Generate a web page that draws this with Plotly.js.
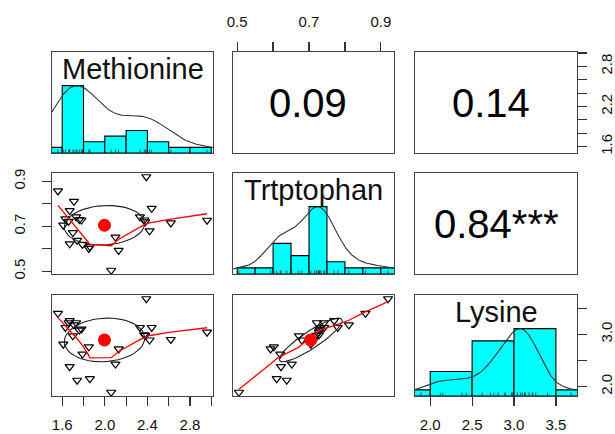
<!DOCTYPE html>
<html><head><meta charset="utf-8">
<script src="https://cdn.plot.ly/plotly-3.0.1.min.js"></script>
<style>html,body{margin:0;padding:0;background:#fff}#chart{width:615px;height:434px}</style>
</head><body><div id="chart"></div>
<script>
// ---------------- data ----------------
const varNames = ["Methionine", "Trtptophan", "Lysine"];
const methionine = [2.39,1.56,1.71,2.06,2.13,1.85,1.86,1.67,1.74,1.79,1.70,2.10,2.42,1.67,2.44,1.61,1.63,1.66,1.73,1.76,1.78,2.33,2.37,2.38,2.62,2.96];
const trtptophan = [0.920,0.857,0.811,0.505,0.593,0.602,0.610,0.622,0.638,0.620,0.672,0.652,0.680,0.770,0.780,0.705,0.733,0.722,0.742,0.730,0.728,0.742,0.728,0.720,0.715,0.727];
const lysine     = [3.68,3.40,3.18,1.89,2.72,2.76,2.15,2.38,2.12,2.62,2.97,2.43,2.89,3.26,3.13,2.81,3.13,3.22,3.22,3.08,3.10,3.13,2.99,2.98,2.90,3.04];
const binWidths = [0.2, 0.05, 0.5];
// correlation labels, upper panels (row,col): (1,2), (1,3), (2,3)
const corPanels = [[0,1],[0,2],[1,2]];
const corText = ["0.09\u00a0", "0.14\u00a0", "0.84***"];
// ticks
const tickVals = [[1.6,1.8,2.0,2.2,2.4,2.6,2.8,3.0],[0.5,0.6,0.7,0.8,0.9],[2.0,2.5,3.0,3.5]];
const xTickText = [["1.6","","2.0","","2.4","","2.8",""],["0.5","","0.7","","0.9"],["2.0","2.5","3.0","3.5"]];
const yTickText = [["1.6","","","2.2","","","2.8",""],["0.5","","0.7","","0.9"],["2.0","","3.0",""]];

// ---------------- helpers ----------------
const vars = [methionine, trtptophan, lysine];
const mean = a => a.reduce((s,v)=>s+v,0)/a.length;
const sd = a => { const m = mean(a); return Math.sqrt(a.reduce((s,v)=>s+(v-m)*(v-m),0)/(a.length-1)); };
const cor = (a,b) => { const ma=mean(a), mb=mean(b); let sab=0,saa=0,sbb=0; for(let i=0;i<a.length;i++){sab+=(a[i]-ma)*(b[i]-mb);saa+=(a[i]-ma)**2;sbb+=(b[i]-mb)**2;} return sab/Math.sqrt(saa*sbb); };
function padRange(a){ const mn=Math.min(...a), mx=Math.max(...a), d=(mx-mn)*0.04; return [mn-d, mx+d]; }
function quantile(a,p){ const s=[...a].sort((x,y)=>x-y); const h=(s.length-1)*p; const lo=Math.floor(h); return s[lo]+(h-lo)*((s[lo+1]??s[lo])-s[lo]); }
function kde(x){
  const bw = 1.06*Math.min(sd(x),(quantile(x,0.75)-quantile(x,0.25))/1.34)*Math.pow(x.length,-0.2);
  const lo = Math.min(...x)-3*bw, hi = Math.max(...x)+3*bw;
  const gx=[], gy=[];
  for(let i=0;i<512;i++){ const g=lo+(hi-lo)*i/511; let s=0; for(const v of x) s+=Math.exp(-0.5*((g-v)/bw)**2); gx.push(g); gy.push(s); }
  const m=Math.max(...gy); return {x:gx, y:gy.map(v=>v/m)};
}
function hist(x, step){
  const start = Math.floor(Math.min(...x)/step+1e-9)*step;
  const end = Math.ceil(Math.max(...x)/step-1e-9)*step;
  const nb = Math.round((end-start)/step);
  const counts = new Array(nb).fill(0);
  for(const v of x){ let k = Math.ceil((v-start)/step-1e-7)-1; if(k<0)k=0; if(k>=nb)k=nb-1; counts[k]++; }
  const mx = Math.max(...counts);
  return {mid: counts.map((_,i)=>start+step*(i+0.5)), h: counts.map(c=>c/mx)};
}
function lowess(xIn, yIn, f=2/3, iter=3){
  const idx = xIn.map((_,i)=>i).sort((a,b)=>xIn[a]-xIn[b]);
  const x = idx.map(i=>xIn[i]), y = idx.map(i=>yIn[i]);
  const N = x.length;
  const ns = Math.max(2, Math.min(N, Math.floor(f*N+1e-7)));
  const ys = new Array(N).fill(0), rw = new Array(N).fill(1), res = new Array(N).fill(0);
  const range = x[N-1]-x[0];
  for(let it=0; it<=iter; it++){
    let nleft=0, nright=ns-1;
    for(let i=0;i<N;i++){
      while(nright < N-1){ if(x[i]-x[nleft] <= x[nright+1]-x[i]) break; nleft++; nright++; }
      const xs=x[i];
      const h=Math.max(xs-x[nleft], x[nright]-xs), h9=0.999*h, h1=0.001*h;
      const w=new Array(N).fill(0);
      let a=0, j=nleft;
      while(j<N){ const r=Math.abs(x[j]-xs); if(r<=h9){ w[j]=(r<=h1)?1:Math.pow(1-Math.pow(r/h,3),3); w[j]*=rw[j]; a+=w[j]; } else if(x[j]>xs) break; j++; }
      const nrt=j-1;
      if(a<=0){ ys[i]=y[i]; continue; }
      for(let k=nleft;k<=nrt;k++) w[k]/=a;
      if(h>0){
        a=0; for(let k=nleft;k<=nrt;k++) a+=w[k]*x[k];
        let b=xs-a, c=0; for(let k=nleft;k<=nrt;k++) c+=w[k]*(x[k]-a)*(x[k]-a);
        if(Math.sqrt(c)>0.001*range){ b/=c; for(let k=nleft;k<=nrt;k++) w[k]*=(b*(x[k]-a)+1); }
      }
      let s=0; for(let k=nleft;k<=nrt;k++) s+=w[k]*y[k]; ys[i]=s;
    }
    if(it>=iter) break;
    for(let i=0;i<N;i++) res[i]=y[i]-ys[i];
    const ar=res.map(Math.abs).sort((p,q)=>p-q);
    const cmad = (N%2===0) ? 3*(ar[N/2-1]+ar[N/2]) : 6*ar[(N-1)/2];
    if(cmad < 1e-7*mean(y.map(Math.abs))) break;
    for(let i=0;i<N;i++){ const r=Math.abs(res[i]); rw[i] = r<=0.001*cmad ? 1 : (r<=0.999*cmad ? (1-(r/cmad)**2)**2 : 0); }
  }
  return {x, y: ys};
}
function ellipse(x, y){
  const xm=mean(x), ym=mean(y), xs=sd(x), ys=sd(y), r=cor(x,y);
  const th = r!==0 ? Math.sign(r)/Math.SQRT2 : 1/Math.SQRT2;
  const a=Math.sqrt(1+r), b=Math.sqrt(1-r);
  const ex=[], ey=[];
  for(let i=0;i<=51;i++){ const ang=i*2*Math.PI/51, c=Math.cos(ang), s=Math.sin(ang);
    ex.push((c*a*th - s*b*th)*xs + xm); ey.push((c*a*th + s*b*th)*ys + ym); }
  return {x:ex, y:ey, xm, ym};
}

// ---------------- layout ----------------
const W=615, H=434;
const colPx=[[52,213],[233,394],[415,577]];
const rowPx=[[52,153],[173,274],[295,396]];
const FONT = 'Liberation Sans, Arial, Helvetica, sans-serif';
const ranges = vars.map(padRange);
const layout = {width:W, height:H, margin:{l:0,r:0,t:0,b:0}, paper_bgcolor:'#fff', plot_bgcolor:'rgba(0,0,0,0)',
  showlegend:false, font:{family:FONT, color:'#000'}, annotations:[]};
const baseAxis = {showline:true, mirror:true, linecolor:'#444', linewidth:1.3, showgrid:false, zeroline:false,
  ticks:'', showticklabels:false, fixedrange:true};
function tickCfg(vals, text, side, standoff, angle){
  return {ticks:'outside', ticklen:9, tickwidth:1.2, tickcolor:'#333', tickmode:'array', tickvals:vals, ticktext:text,
    showticklabels:true, tickfont:{size:15, color:'#111', family:FONT}, side:side, ticklabelstandoff:standoff, tickangle:angle};
}
const traces=[];
for(let r=0;r<3;r++) for(let c=0;c<3;c++){
  const k=r*3+c+1;
  layout['xaxis'+k] = Object.assign({}, baseAxis, {domain:[colPx[c][0]/W, colPx[c][1]/W], anchor:'y'+k, range:ranges[c]});
  layout['yaxis'+k] = Object.assign({}, baseAxis, {domain:[1-rowPx[r][1]/H, 1-rowPx[r][0]/H], anchor:'x'+k,
    range: r===c ? [0,1.5] : ranges[r]});
  if(c>r) traces.push({type:'scatter', mode:'markers', x:[], y:[], xaxis:'x'+k, yaxis:'y'+k, hoverinfo:'skip'});
}
Object.assign(layout.xaxis7, tickCfg(tickVals[0], xTickText[0], 'bottom', 6, 0));
Object.assign(layout.xaxis2, tickCfg(tickVals[1], xTickText[1], 'top', 9, 0));
Object.assign(layout.xaxis9, tickCfg(tickVals[2], xTickText[2], 'bottom', 6, 0));
Object.assign(layout.yaxis3, tickCfg(tickVals[0], yTickText[0], 'right', 7, -90));
Object.assign(layout.yaxis4, tickCfg(tickVals[1], yTickText[1], 'left', 11, -90));
// Lysine scale on the right of the last diagonal panel
layout.yaxis10 = Object.assign({}, baseAxis, tickCfg(tickVals[2], yTickText[2], 'right', 7, -90),
  {overlaying:'y9', anchor:'x9', domain:layout.yaxis9.domain, range:ranges[2], showline:false});
traces.push({type:'scatter', mode:'markers', x:[], y:[], xaxis:'x9', yaxis:'y10', hoverinfo:'skip'});

// diagonal panels: histogram + density + rug
for(let i=0;i<3;i++){
  const k=i*4+1;
  const hs = hist(vars[i], binWidths[i]);
  traces.push({type:'bar', x:hs.mid, y:hs.h, width:binWidths[i], xaxis:'x'+k, yaxis:'y'+k,
    marker:{color:'#00FFFF', line:{color:'#000', width:1.1}}, hoverinfo:'skip'});
  const d = kde(vars[i]);
  traces.push({type:'scatter', mode:'lines', x:d.x, y:d.y, xaxis:'x'+k, yaxis:'y'+k, line:{color:'#333', width:1.1}, hoverinfo:'skip'});
  traces.push({type:'scatter', mode:'markers', x:vars[i], y:vars[i].map(()=>0), xaxis:'x'+k, yaxis:'y'+k,
    marker:{symbol:'line-ns-open', size:5, color:'#333', line:{color:'#333', width:0.8}}, hoverinfo:'skip'});
  layout.annotations.push({xref:'x'+k+' domain', yref:'y'+k+' domain', x:0.5, y:1, xanchor:'center', yanchor:'top',
    text:varNames[i], showarrow:false, font:{size:29, family:FONT, color:'#111'}, yshift:1});
}
// lower panels: scatter + ellipse + lowess + mean
for(let r=0;r<3;r++) for(let c=0;c<r;c++){
  const k=r*3+c+1, X=vars[c], Y=vars[r];
  traces.push({type:'scatter', mode:'markers', x:X, y:Y, xaxis:'x'+k, yaxis:'y'+k,
    marker:{symbol:'triangle-down-open', size:8, color:'#000', line:{color:'#000', width:1.2}}, hoverinfo:'skip'});
  const e = ellipse(X,Y);
  traces.push({type:'scatter', mode:'lines', x:e.x, y:e.y, xaxis:'x'+k, yaxis:'y'+k, line:{color:'#222', width:1.1}, hoverinfo:'skip'});
  const lw = lowess(X,Y);
  traces.push({type:'scatter', mode:'lines', x:lw.x, y:lw.y, xaxis:'x'+k, yaxis:'y'+k, line:{color:'#FF0000', width:1.3}, hoverinfo:'skip'});
  traces.push({type:'scatter', mode:'markers', x:[e.xm], y:[e.ym], xaxis:'x'+k, yaxis:'y'+k,
    marker:{symbol:'circle', size:13, color:'#FF0000'}, hoverinfo:'skip'});
}
// upper panels: correlation text
corPanels.forEach(([r,c],i)=>{
  const k=r*3+c+1;
  layout.annotations.push({xref:'x'+k+' domain', yref:'y'+k+' domain', x:0.5, y:0.5, xanchor:'center', yanchor:'middle',
    text:corText[i], showarrow:false, font:{size:40, family:FONT, color:'#000'}, yshift:0});
});
Plotly.newPlot('chart', traces, layout, {displayModeBar:false, staticPlot:true});
</script></body></html>
